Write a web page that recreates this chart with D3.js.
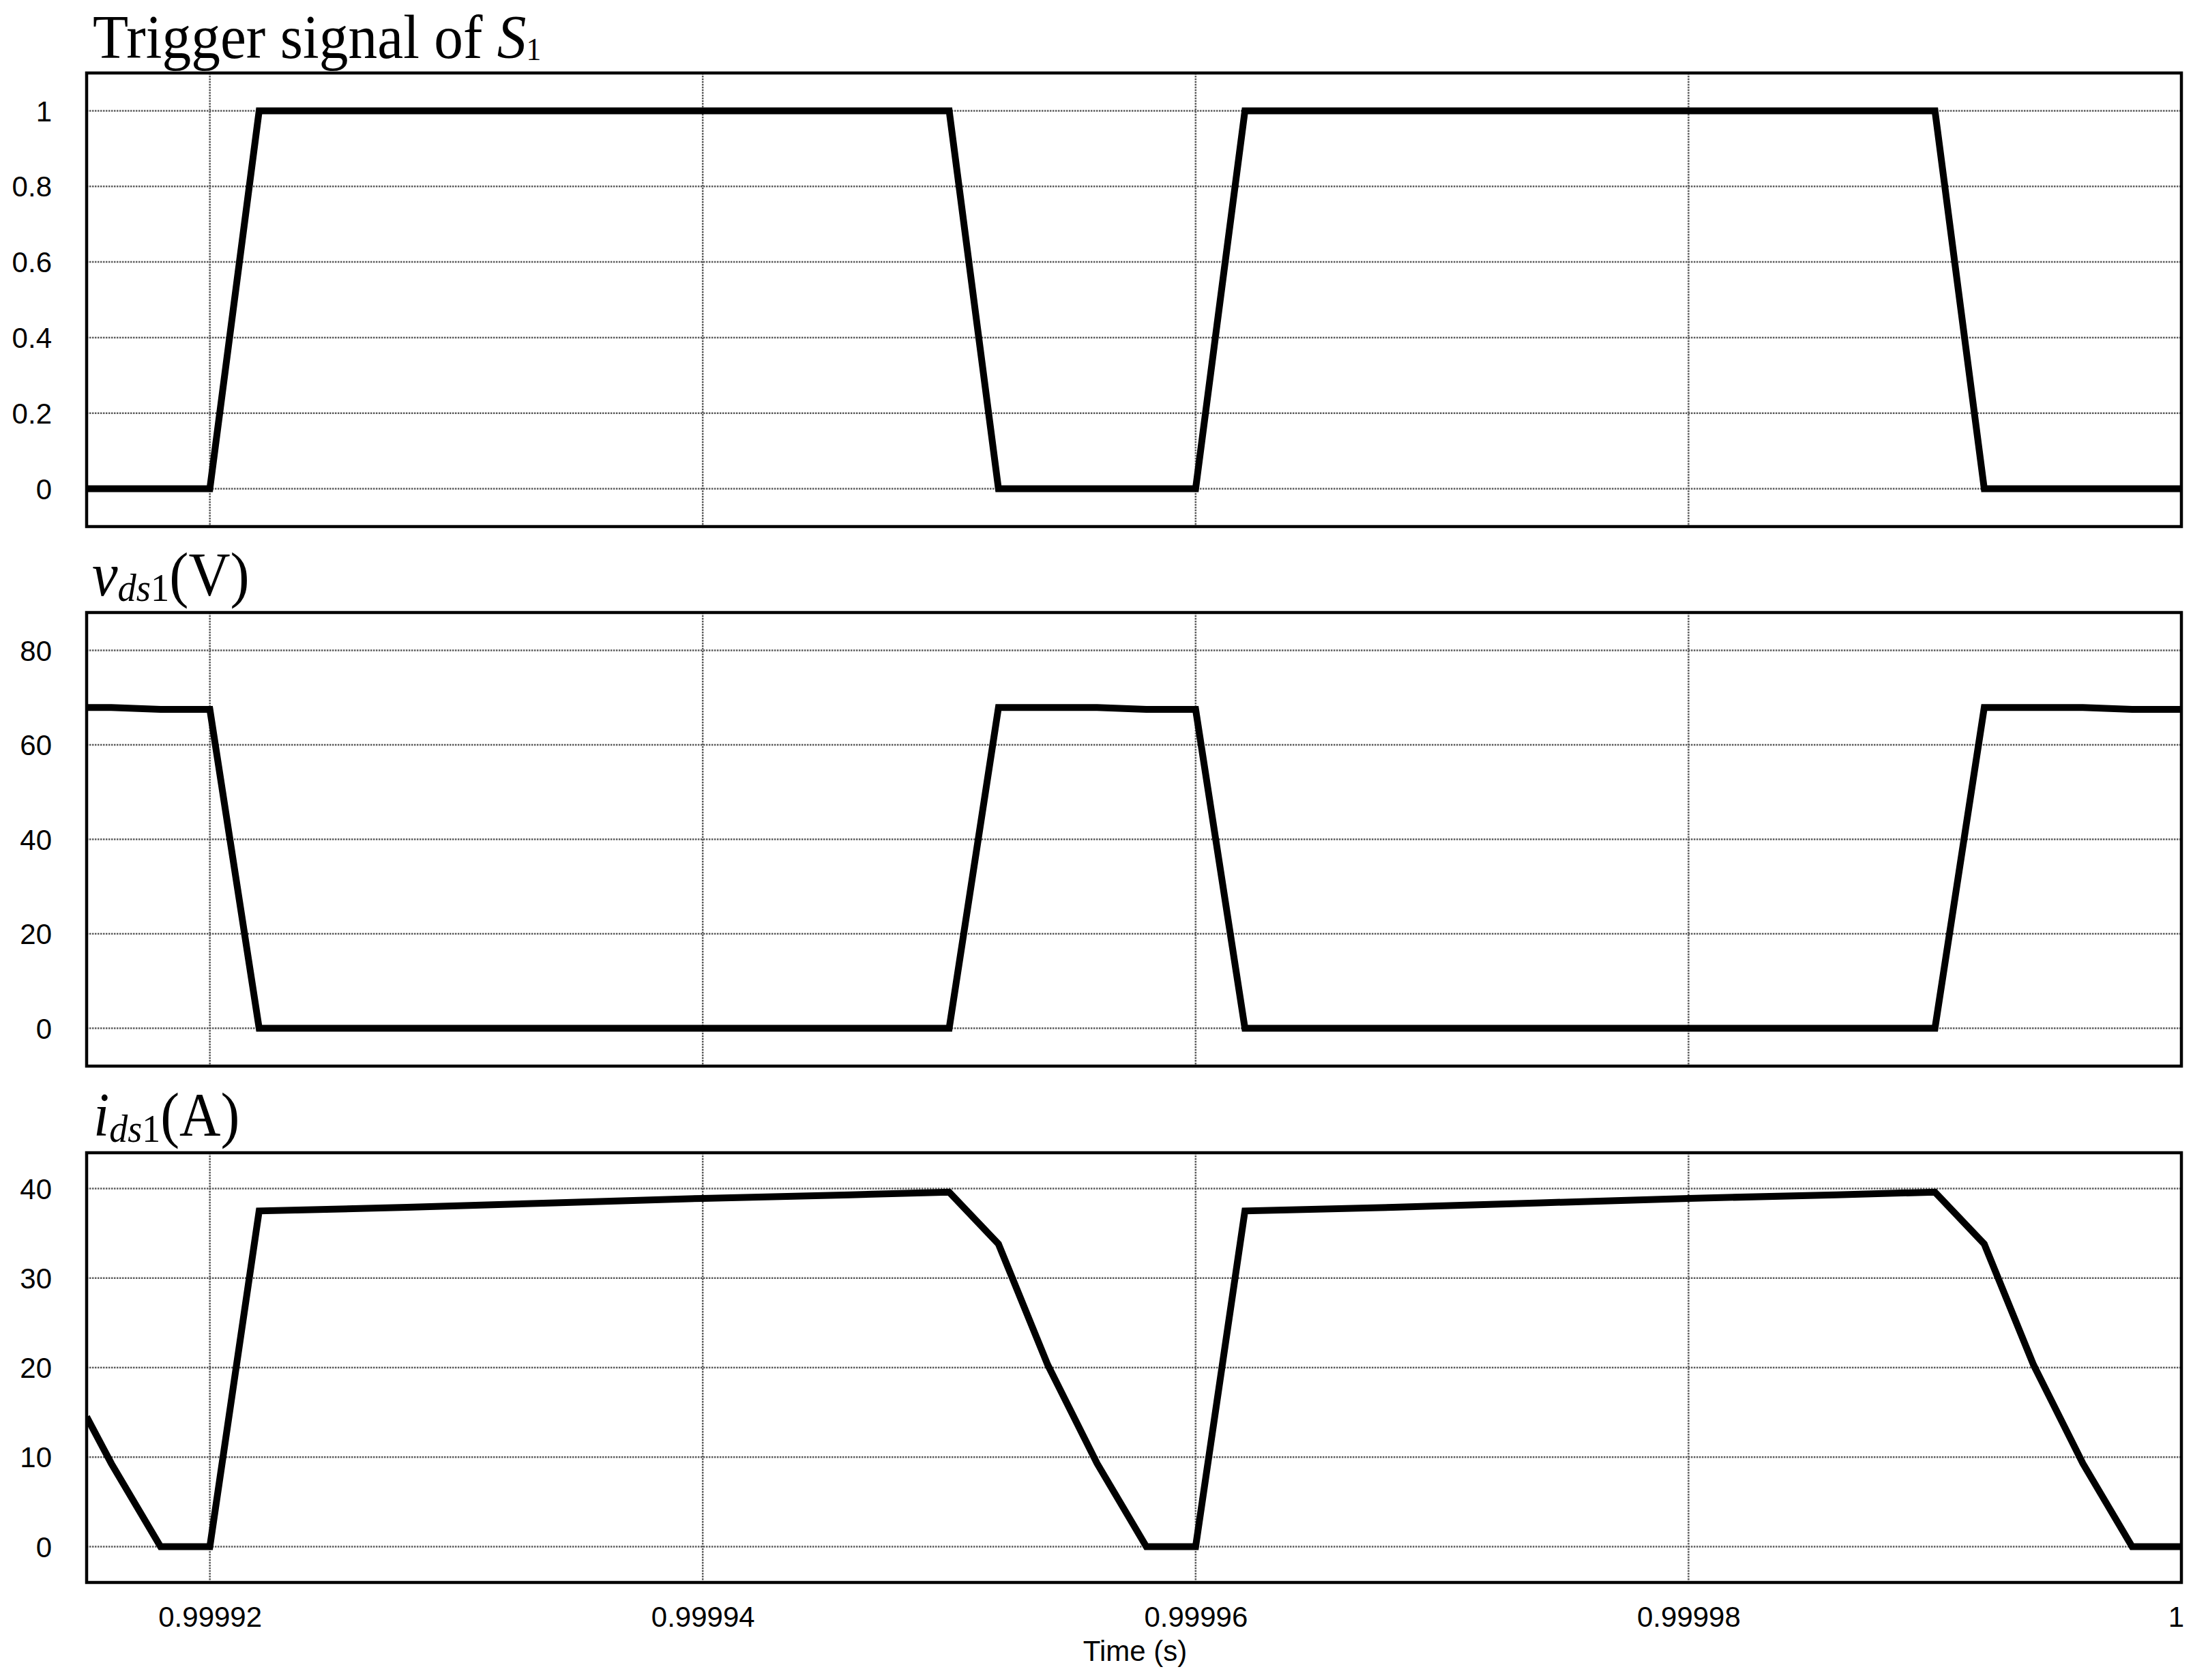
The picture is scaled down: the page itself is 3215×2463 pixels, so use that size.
<!DOCTYPE html>
<html>
<head>
<meta charset="utf-8">
<script src="https://cdn.jsdelivr.net/npm/d3@7"></script>
<style>
  body { margin: 0; background: #fff; }
  .tick text { font-family: "Liberation Sans", Arial, sans-serif; font-size: 42px; fill: #000; }
  .ttl { font-family: "Liberation Serif", "Times New Roman", serif; fill: #000; }
</style>
</head>
<body>
<div id="chart"></div>
<script>
// time axis (s)
var timeTicks = [0.99992, 0.99994, 0.99996, 0.99998, 1];
var timeLabels = ["0.99992", "0.99994", "0.99996", "0.99998", "1"];

// trigger signal of S1
var trigTime = [0.999915, 0.99992, 0.999922, 0.99995, 0.999952, 0.99996, 0.999962, 0.99999, 0.999992, 1];
var trigVal  = [0, 0, 1, 1, 0, 0, 1, 1, 0, 0];
var trigTicks = [0, 0.2, 0.4, 0.6, 0.8, 1];

// v_ds1 (V)
var vdsTime = [0.999915, 0.999916, 0.999918, 0.99992, 0.999922, 0.99995, 0.999952, 0.999954, 0.999956,
               0.999958, 0.99996, 0.999962, 0.99999, 0.999992, 0.999994, 0.999996, 0.999998, 1];
var vdsVal  = [67.9, 67.9, 67.5, 67.5, 0, 0, 67.9, 67.9, 67.9,
               67.5, 67.5, 0, 0, 67.9, 67.9, 67.9, 67.5, 67.5];
var vdsTicks = [0, 20, 40, 60, 80];

// i_ds1 (A)
var idsTime = [0.999915, 0.999916, 0.999918, 0.99992, 0.999922, 0.999928, 0.999934, 0.99994, 0.999946, 0.99995,
               0.999952, 0.999954, 0.999956, 0.999958, 0.99996, 0.999962, 0.999968, 0.999974, 0.99998, 0.999986,
               0.99999, 0.999992, 0.999994, 0.999996, 0.999998, 1];
var idsVal  = [14.5, 9.3, 0, 0, 37.5, 37.9, 38.4, 38.9, 39.3, 39.6,
               33.8, 20.3, 9.3, 0, 0, 37.5, 37.9, 38.4, 38.9, 39.3,
               39.6, 33.8, 20.3, 9.3, 0, 0];
var idsTicks = [0, 10, 20, 30, 40];

var W = 3215, H = 2463;
var left = 127, right = 3198;

var svg = d3.select("#chart").append("svg")
    .attr("width", W)
    .attr("height", H);

svg.append("rect").attr("width", W).attr("height", H).attr("fill", "#fff");

var x = d3.scaleLinear()
    .domain([0.999915, 1])
    .range([left, right]);

var panels = [
  {top: 107,  bottom: 772,  domain: [-0.1, 1.1], ticks: trigTicks, t: trigTime, v: trigVal},
  {top: 898,  bottom: 1563, domain: [-8, 88],    ticks: vdsTicks,  t: vdsTime,  v: vdsVal},
  {top: 1690, bottom: 2320, domain: [-4, 44],    ticks: idsTicks,  t: idsTime,  v: idsVal}
];

panels.forEach(function(p, i) {
  var y = d3.scaleLinear().domain(p.domain).range([p.bottom, p.top]);
  var g = svg.append("g");

  g.append("clipPath").attr("id", "clip" + i)
    .append("rect")
      .attr("x", left).attr("y", p.top)
      .attr("width", right - left).attr("height", p.bottom - p.top);

  // dotted grid
  g.selectAll(".hgrid").data(p.ticks).enter().append("line")
      .attr("x1", left).attr("x2", right)
      .attr("y1", function(d) { return y(d); })
      .attr("y2", function(d) { return y(d); })
      .attr("stroke", "#5a5a5a").attr("stroke-width", 2.5)
      .attr("stroke-dasharray", "2.5,1.5");
  g.selectAll(".vgrid").data(timeTicks).enter().append("line")
      .attr("x1", function(d) { return x(d); })
      .attr("x2", function(d) { return x(d); })
      .attr("y1", p.top).attr("y2", p.bottom)
      .attr("stroke", "#5a5a5a").attr("stroke-width", 2.5)
      .attr("stroke-dasharray", "2.5,1.5");

  // y axis labels
  var ax = g.append("g")
      .attr("transform", "translate(" + left + ",0)")
      .call(d3.axisLeft(y).tickValues(p.ticks).tickSize(0).tickPadding(51)
        .tickFormat(d3.format("")));
  ax.select(".domain").remove();
  ax.selectAll("text").attr("dy", "0.35em");

  // waveform
  var line = d3.line()
      .x(function(d) { return x(d[0]); })
      .y(function(d) { return y(d[1]); });
  g.append("path")
      .datum(d3.zip(p.t, p.v))
      .attr("clip-path", "url(#clip" + i + ")")
      .attr("d", line)
      .attr("fill", "none")
      .attr("stroke", "#000")
      .attr("stroke-width", 10)
      .attr("stroke-linejoin", "miter")
      .attr("stroke-miterlimit", 3);

  // frame
  g.append("rect")
      .attr("x", left).attr("y", p.top)
      .attr("width", right - left).attr("height", p.bottom - p.top)
      .attr("fill", "none").attr("stroke", "#000").attr("stroke-width", 4.5);
});

// x axis
var xa = svg.append("g")
    .attr("transform", "translate(0," + panels[2].bottom + ")")
    .call(d3.axisBottom(x).tickValues(timeTicks).tickSize(0).tickPadding(35)
      .tickFormat(function(d, i) { return timeLabels[i]; }));
xa.select(".domain").remove();
xa.selectAll(".tick").filter(function(d) { return d === 1; })
  .select("text").attr("x", -8);

svg.append("text")
    .attr("x", 1664).attr("y", 2435)
    .attr("text-anchor", "middle")
    .style("font-family", "Liberation Sans, Arial, sans-serif")
    .style("font-size", "42px")
    .text("Time (s)");

// panel titles
var t1 = svg.append("text").attr("class", "ttl")
    .attr("transform", "translate(136,85) scale(0.95,1)")
    .style("font-size", "90px");
t1.append("tspan").text("Trigger signal of ");
t1.append("tspan").style("font-style", "italic").text("S");
t1.append("tspan").attr("dy", 3).style("font-size", "46px").text("1");

var t2 = svg.append("text").attr("class", "ttl")
    .attr("transform", "translate(135,873) scale(0.94,1)")
    .style("font-size", "90px");
t2.append("tspan").style("font-style", "italic").text("v");
t2.append("tspan").attr("dy", 8).style("font-style", "italic").style("font-size", "58px").text("ds");
t2.append("tspan").style("font-size", "58px").text("1");
t2.append("tspan").attr("dy", -8).text("(V)");

var t3 = svg.append("text").attr("class", "ttl")
    .attr("transform", "translate(137,1665) scale(0.93,1)")
    .style("font-size", "90px");
t3.append("tspan").style("font-style", "italic").text("i");
t3.append("tspan").attr("dy", 9).style("font-style", "italic").style("font-size", "58px").text("ds");
t3.append("tspan").style("font-size", "58px").text("1");
t3.append("tspan").attr("dy", -9).text("(A)");
</script>
</body>
</html>
